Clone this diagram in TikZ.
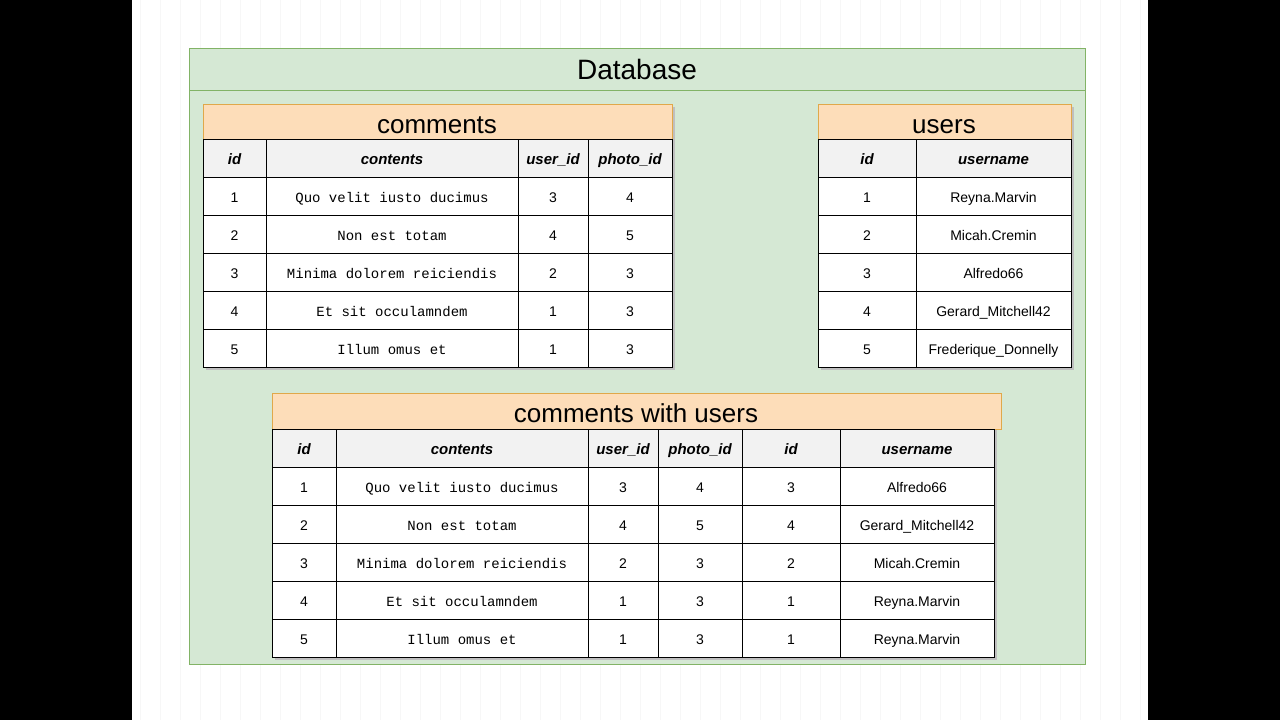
\documentclass[tikz,border=0pt]{standalone}
\usepackage{fontspec}
\setmainfont{Liberation Sans}
\setmonofont{Liberation Mono}
\definecolor{dbgreen}{HTML}{D5E8D4}
\definecolor{dbgreenline}{HTML}{82B366}
\definecolor{peach}{HTML}{FDDDB9}
\definecolor{peachline}{HTML}{E0A84A}
\definecolor{headgray}{HTML}{F2F2F2}

\begin{document}
\begin{tikzpicture}[x=1pt,y=-1pt,
    every node/.style={text height=13pt, text depth=0pt},
    title/.style={font=\fontsize{26}{28}\selectfont, text height=20pt, text depth=0pt},
    colhead/.style={font=\fontsize{15}{17}\selectfont\bfseries\itshape},
    cell/.style={font=\fontsize{14}{16}\selectfont},
    mono/.style={font=\fontsize{14}{16}\selectfont\ttfamily},
    tabhead/.style={fill=peach, draw=peachline, line width=1pt},
    shadow/.style={fill=black!25, draw=none},
    every path/.append style={line width=1pt}]
		% page
		\useasboundingbox (0,0) rectangle (1280,720);
		\fill[black] (0,0) rectangle (132,720);
		\fill[black] (1148,0) rectangle (1280,720);
		\draw[black!3, step=20, line width=0.5pt] (132,0) grid (1148,720);
		
		% database box
		\draw[fill=dbgreen, draw=dbgreenline] (189,48) rectangle (1085,664);
		\draw[dbgreenline] (189,90) -- (1085,90);
		\node[title, font=\fontsize{28}{30}\selectfont] (db) at (637,69) {Database};
		
		% comments
		\fill[shadow] (206,107) rectangle (675,370);
		\draw[tabhead] (203,104) rectangle (672,139);
		\node[title] (comments) at (437,123) {comments};
		\draw[fill=headgray] (203,139) rectangle (672,177);
		\draw[fill=white] (203,177) rectangle (672,367);
		\foreach \y in {177,215,...,329} \draw (203,\y) -- (672,\y);
		\foreach \x in {266,518,588} \draw (\x,139) -- (\x,367);
		\node[colhead] (c-id) at (234.5,158) {id};
		\node[colhead] (c-contents) at (392,158) {contents};
		\node[colhead] (c-uid) at (553,158) {user\_id};
		\node[colhead] (c-pid) at (630,158) {photo\_id};
		\foreach \i/\t/\u/\p [count=\r from 0] in {1/Quo velit iusto ducimus/3/4, 2/Non est totam/4/5,
		    3/Minima dolorem reiciendis/2/3, 4/Et sit occulamndem/1/3, 5/Illum omus et/1/3}{
		    \node[cell] (c\i-id) at (234.5,196+38*\r) {\i};
		    \node[mono] (c\i-t) at (392,196+38*\r) {\t};
		    \node[cell] (c\i-u) at (553,196+38*\r) {\u};
		    \node[cell] (c\i-p) at (630,196+38*\r) {\p};
		}
		
		% users
		\fill[shadow] (821,107) rectangle (1074,370);
		\draw[tabhead] (818,104) rectangle (1071,139);
		\node[title] (users) at (944,123) {users};
		\draw[fill=headgray] (818,139) rectangle (1071,177);
		\draw[fill=white] (818,177) rectangle (1071,367);
		\foreach \y in {177,215,...,329} \draw (818,\y) -- (1071,\y);
		\draw (916,139) -- (916,367);
		\node[colhead] (u-id) at (867,158) {id};
		\node[colhead] (u-name) at (993.5,158) {username};
		\foreach \i/\n [count=\r from 0] in {1/Reyna.Marvin, 2/Micah.Cremin, 3/Alfredo66,
		    4/Gerard\_Mitchell42, 5/Frederique\_Donnelly}{
		    \node[cell] (u\i-id) at (867,196+38*\r) {\i};
		    \node[cell] (u\i-n) at (993.5,196+38*\r) {\n};
		}
		
		% comments with users
		\fill[shadow] (275,396) rectangle (997,660);
		\draw[tabhead] (272,393) rectangle (1001,429);
		\node[title] (joined) at (636,412) {comments with users};
		\draw[fill=headgray] (272,429) rectangle (994,467);
		\draw[fill=white] (272,467) rectangle (994,657);
		\foreach \y in {467,505,...,619} \draw (272,\y) -- (994,\y);
		\foreach \x in {336,588,658,742,840} \draw (\x,429) -- (\x,657);
		\node[colhead] (j-id) at (304,448) {id};
		\node[colhead] (j-contents) at (462,448) {contents};
		\node[colhead] (j-uid) at (623,448) {user\_id};
		\node[colhead] (j-pid) at (700,448) {photo\_id};
		\node[colhead] (j-id2) at (791,448) {id};
		\node[colhead] (j-name) at (917,448) {username};
		\foreach \i/\t/\u/\p/\n [count=\r from 0] in {1/Quo velit iusto ducimus/3/4/Alfredo66,
		    2/Non est totam/4/5/Gerard\_Mitchell42, 3/Minima dolorem reiciendis/2/3/Micah.Cremin,
		    4/Et sit occulamndem/1/3/Reyna.Marvin, 5/Illum omus et/1/3/Reyna.Marvin}{
		    \node[cell] (j\i-id) at (304,486+38*\r) {\i};
		    \node[mono] (j\i-t) at (462,486+38*\r) {\t};
		    \node[cell] (j\i-u) at (623,486+38*\r) {\u};
		    \node[cell] (j\i-p) at (700,486+38*\r) {\p};
		    \node[cell] (j\i-id2) at (791,486+38*\r) {\u};
		    \node[cell] (j\i-n) at (917,486+38*\r) {\n};
		}
	\end{tikzpicture}
\end{document}
